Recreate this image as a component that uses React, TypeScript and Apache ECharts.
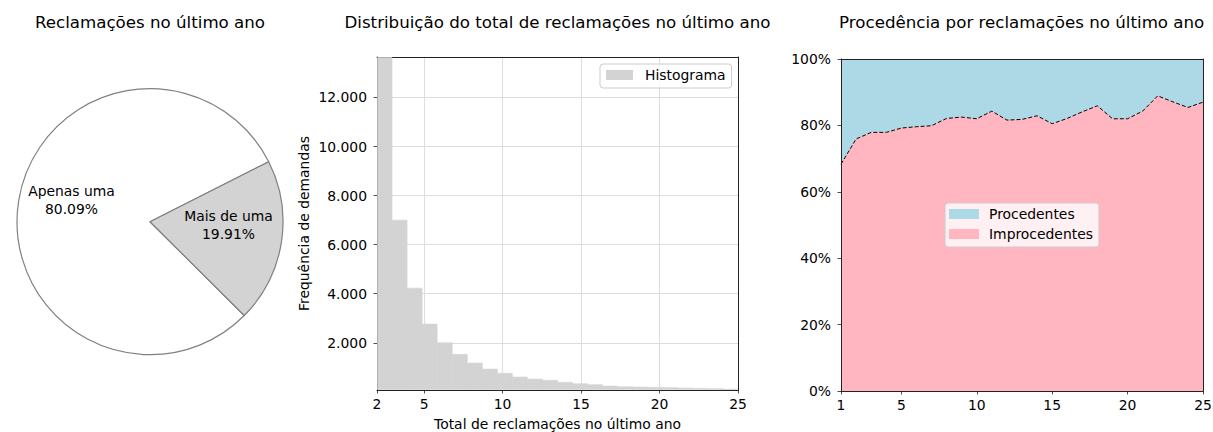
import React, { useEffect, useRef } from 'react';
import * as echarts from 'echarts';

// ---------- data ----------
const pieCategories = ['Apenas uma', 'Mais de uma'];
const pieValues = [80.09, 19.91];

const histRange = [2, 25];
const histCounts = [15500, 7000, 4228, 2761, 2000, 1527, 1173, 929, 753, 603, 521, 468, 387, 330, 290, 236, 207, 195, 183, 170, 155, 142, 130, 115];
const histXTicks = [2, 5, 10, 15, 20, 25];
const histYTicks = [2000, 4000, 6000, 8000, 10000, 12000];
const histYRange = [75, 13650];

const areaX = ['1', '2', '3', '4', '5', '6', '7', '8', '9', '10', '11', '12', '13', '14', '15', '16', '17', '18', '19', '20', '21', '22', '23', '24', '25'];
const improcedentes = [68.3, 75.9, 77.9, 77.9, 79.2, 79.6, 79.9, 82.1, 82.5, 82.0, 84.3, 81.6, 81.8, 82.9, 80.5, 82.1, 84.1, 85.9, 82.0, 82.0, 84.3, 88.9, 87.1, 85.4, 87.0];
const procedentes = [31.7, 24.1, 22.1, 22.1, 20.8, 20.4, 20.1, 17.9, 17.5, 18.0, 15.7, 18.4, 18.2, 17.1, 19.5, 17.9, 15.9, 14.1, 18.0, 18.0, 15.7, 11.1, 12.9, 14.6, 13.0];
const areaXTicks = ['1', '5', '10', '15', '20', '25'];

const titles = [
  'Reclamações no último ano',
  'Distribuição do total de reclamações no último ano',
  'Procedência por reclamações no último ano',
];

const FONT = '"DejaVu Sans", sans-serif';
const FS = 13.9;

const thousands = (v: number) => String(Math.round(v)).replace(/\B(?=(\d{3})+(?!\d))/g, '.');

export default function App() {
  const ref = useRef<HTMLDivElement>(null);

  useEffect(() => {
    if (!ref.current) return;
    const chart = echarts.init(ref.current, null, { renderer: 'svg' });

    const binW = (histRange[1] - histRange[0]) / histCounts.length;
    const histData = histCounts.map((c, i) => [histRange[0] + i * binW, histRange[0] + (i + 1) * binW, c]);

    const axisLine = { show: true, onZero: false, lineStyle: { color: '#222', width: 1 } };
    const axisTick = { show: true, inside: false, length: 3.5, lineStyle: { color: '#222', width: 0.8 } };
    const labelStyle = { color: '#000', fontSize: FS, fontFamily: FONT };
    const frameAxis = (gridIndex: number, position: string, min: number, max: number, z = 0) => ({
      gridIndex, position, type: 'value', min, max, z,
      axisLine, axisTick: { show: false }, axisLabel: { show: false }, splitLine: { show: false },
    });
    const titleStyle = { fontSize: 16.67, fontWeight: 'normal', color: '#000', fontFamily: FONT };
    const showAreaTick = (_i: number, v: string) => areaXTicks.includes(String(v));

    const option: any = {
      animation: false,
      textStyle: { fontFamily: FONT },
      title: [
        { text: titles[0], left: 150, textAlign: 'center', top: 14, padding: 0, textStyle: titleStyle },
        { text: titles[1], left: 557.5, textAlign: 'center', top: 14, padding: 0, textStyle: titleStyle },
        { text: titles[2], left: 1021.7, textAlign: 'center', top: 14, padding: 0, textStyle: titleStyle },
      ],
      legend: [
        {
          data: [{ name: 'Histograma', icon: 'rect' }],
          left: 600, top: 64, orient: 'vertical',
          padding: [4, 6, 6, 6], itemWidth: 27, itemHeight: 10,
          textStyle: { ...labelStyle, lineHeight: 14, padding: [0, 0, 0, 7] },
          backgroundColor: 'rgba(255,255,255,0.8)', borderColor: '#cccccc', borderWidth: 1, borderRadius: 3,
          itemStyle: { borderWidth: 0 }, selectedMode: false,
        },
        {
          data: [{ name: 'Procedentes', icon: 'rect' }, { name: 'Improcedentes', icon: 'rect' }],
          left: 945, top: 203, orient: 'vertical',
          padding: [4, 6, 6, 4], itemWidth: 30, itemHeight: 10, itemGap: 6,
          textStyle: { ...labelStyle, lineHeight: 14, padding: [0, 0, 0, 5] },
          backgroundColor: 'rgba(255,255,255,0.8)', borderColor: '#cccccc', borderWidth: 1, borderRadius: 3,
          itemStyle: { borderWidth: 0 }, lineStyle: { width: 0 }, selectedMode: false,
        },
      ],
      grid: [
        { left: 377, top: 57, width: 361, height: 333, containLabel: false, outerBoundsMode: 'none' },
        { left: 841, top: 59, width: 362, height: 332, containLabel: false, outerBoundsMode: 'none' },
      ],
      xAxis: [
        {
          gridIndex: 0, type: 'value', position: 'bottom', min: histRange[0], max: histRange[1],
          axisLine, axisTick: { ...axisTick, customValues: histXTicks },
          axisLabel: { ...labelStyle, margin: 7, customValues: histXTicks },
          splitLine: { show: true, lineStyle: { color: '#dddddd', width: 1 } },
          name: 'Total de reclamações no último ano', nameLocation: 'middle', nameGap: 27,
          nameTextStyle: { ...labelStyle },
        },
        frameAxis(0, 'top', histRange[0], histRange[1]),
        {
          gridIndex: 1, type: 'category', data: areaX, boundaryGap: false, position: 'bottom', z: 5,
          axisLine, axisTick: { ...axisTick, interval: showAreaTick },
          axisLabel: { ...labelStyle, margin: 7, interval: showAreaTick },
          splitLine: { show: false },
        },
        frameAxis(1, 'top', 0, 1, 5),
      ],
      yAxis: [
        {
          gridIndex: 0, type: 'value', position: 'left', min: histYRange[0], max: histYRange[1],
          axisLine, axisTick: { ...axisTick, customValues: histYTicks },
          axisLabel: { ...labelStyle, margin: 10, customValues: histYTicks, formatter: thousands },
          splitLine: { show: true, lineStyle: { color: '#dddddd', width: 1 } },
          name: 'Frequência de demandas', nameLocation: 'middle', nameGap: 66, nameRotate: 90,
          nameTextStyle: { ...labelStyle },
        },
        frameAxis(0, 'right', histYRange[0], histYRange[1]),
        {
          gridIndex: 1, type: 'value', position: 'left', min: 0, max: 100, interval: 20, z: 5,
          axisLine, axisTick,
          axisLabel: { ...labelStyle, margin: 10, formatter: '{value}%' },
          splitLine: { show: false },
        },
        frameAxis(1, 'right', 0, 100, 5),
      ],
      series: [
        {
          type: 'pie', center: [150, 221.7], radius: 133, startAngle: 26.8, clockwise: false,
          silent: true, avoidLabelOverlap: false,
          data: pieCategories.map((n, i) => ({ name: n, value: pieValues[i], itemStyle: { color: i === 0 ? '#ffffff' : '#d3d3d3' } })),
          itemStyle: { borderColor: '#808080', borderWidth: 1.2 },
          label: { show: false }, labelLine: { show: false }, emphasis: { disabled: true },
        },
        {
          type: 'pie', center: [150, 221.7], radius: [20, 133], startAngle: 26.8, clockwise: false,
          silent: true, avoidLabelOverlap: false,
          data: pieCategories.map((n, i) => ({ name: n, value: pieValues[i] })),
          itemStyle: { color: 'rgba(0,0,0,0)', borderWidth: 0 },
          label: { show: true, position: 'inside', rotate: 0, formatter: '{b}\n{d}%', color: '#000', fontSize: FS, fontFamily: FONT, lineHeight: 18, align: 'center' },
          labelLayout: { dy: -9 },
          labelLine: { show: false }, emphasis: { disabled: true },
        },
        {
          type: 'custom', name: 'Histograma', xAxisIndex: 0, yAxisIndex: 0,
          itemStyle: { color: '#d3d3d3' },
          encode: { x: [0, 1], y: 2 },
          data: histData,
          renderItem: (params: any, api: any) => {
            const p0 = api.coord([api.value(0), api.value(2)]);
            const p1 = api.coord([api.value(1), histYRange[0]]);
            const cs = params.coordSys;
            const rect = echarts.graphic.clipRectByRect(
              { x: p0[0], y: p0[1], width: p1[0] - p0[0], height: p1[1] - p0[1] },
              { x: cs.x + 0.5, y: cs.y + 0.5, width: cs.width - 1, height: cs.height - 1 }
            );
            if (!rect) return null;
            return { type: 'rect', shape: rect, style: { fill: '#d3d3d3', stroke: '#d3d3d3', lineWidth: 0.6 } };
          },
        },
        {
          type: 'line', name: 'Improcedentes', xAxisIndex: 2, yAxisIndex: 2, stack: 'total', z: 3,
          data: improcedentes,
          symbol: 'none', showSymbol: false, itemStyle: { color: '#ffb6c1' },
          lineStyle: { color: '#000', width: 1, type: [4, 2] },
          areaStyle: { color: '#ffb6c1', opacity: 1 },
          emphasis: { disabled: true },
        },
        {
          type: 'line', name: 'Procedentes', xAxisIndex: 2, yAxisIndex: 2, stack: 'total', z: 2,
          data: procedentes,
          symbol: 'none', showSymbol: false, itemStyle: { color: '#add8e6' },
          lineStyle: { width: 0.5, color: '#add8e6' },
          areaStyle: { color: '#add8e6', opacity: 1 },
          emphasis: { disabled: true },
        },
      ],
    };

    chart.setOption(option);
    return () => chart.dispose();
  }, []);

  return <div ref={ref} style={{ position: 'absolute', left: 0, top: 0, width: 1213, height: 432, background: '#fff' }} />;
}
